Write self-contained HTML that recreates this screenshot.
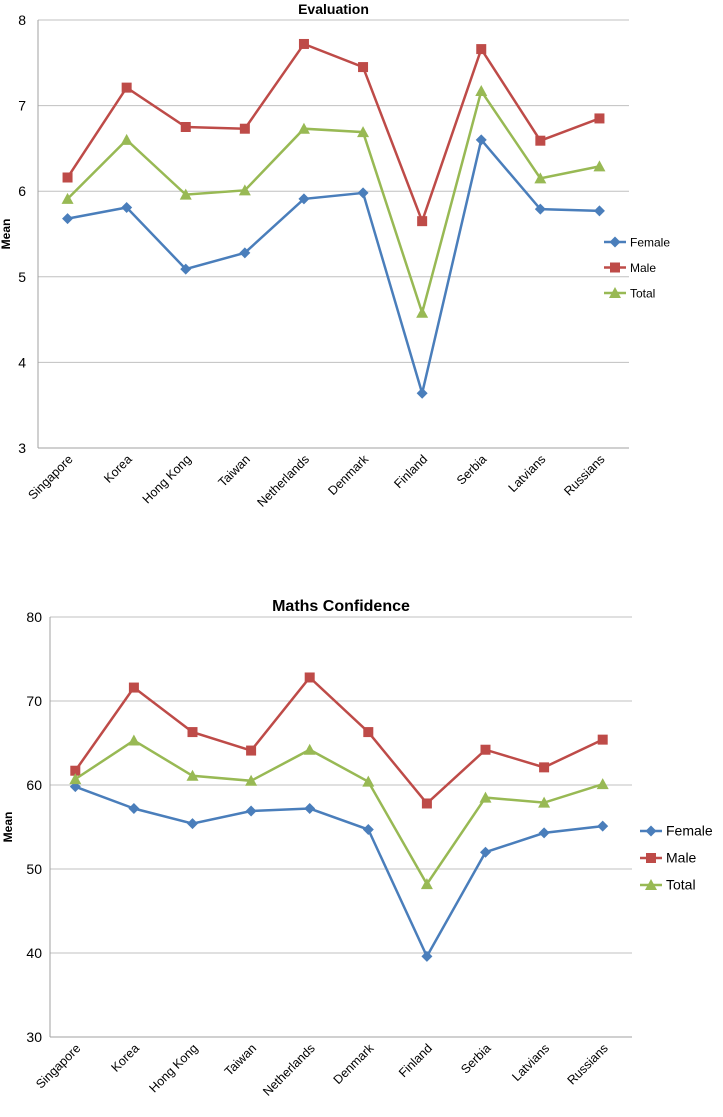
<!DOCTYPE html>
<html><head><meta charset="utf-8"><style>
body{margin:0;background:#fff;font-family:"Liberation Sans",sans-serif;}
svg text{font-family:"Liberation Sans",sans-serif;}
</style></head><body>
<svg id="s" width="723" height="1112"></svg>
<script>
const categories=["Singapore","Korea","Hong Kong","Taiwan","Netherlands","Denmark","Finland","Serbia","Latvians","Russians"];
const evalFemale=[5.68,5.81,5.09,5.28,5.91,5.98,3.64,6.6,5.79,5.77];
const evalMale=[6.16,7.21,6.75,6.73,7.72,7.45,5.65,7.66,6.59,6.85];
const evalTotal=[5.91,6.6,5.96,6.01,6.73,6.69,4.58,7.17,6.15,6.29];
const evalTicks=[3,4,5,6,7,8];
const confFemale=[59.8,57.2,55.4,56.9,57.2,54.7,39.6,52.0,54.3,55.1];
const confMale=[61.7,71.6,66.3,64.1,72.8,66.3,57.8,64.2,62.1,65.4];
const confTotal=[60.7,65.3,61.1,60.5,64.2,60.4,48.2,58.5,57.9,60.1];
const confTicks=[30,40,50,60,70,80];
const seriesNames=["Female","Male","Total"];
const colors=["#4a7ebb","#be4b48","#98b954"];
const NS="http://www.w3.org/2000/svg";
const svg=document.getElementById('s');
function mk(t,a,p){const e=document.createElementNS(NS,t);for(const k in a)e.setAttribute(k,a[k]);(p||svg).appendChild(e);return e;}
function marker(g,i,x,y){
  if(i===0)return mk('polygon',{points:`${x},${y-5.5} ${x+5.5},${y} ${x},${y+5.5} ${x-5.5},${y}`,fill:colors[0]},g);
  if(i===1)return mk('rect',{x:x-5,y:y-5,width:10,height:10,fill:colors[1]},g);
  return mk('polygon',{points:`${x},${y-6} ${x+6},${y+5} ${x-6},${y+5}`,fill:colors[2]},g);
}
function chart(o){
  const g=mk('g',{});
  
  
  const min=o.ticks[0],max=o.ticks[o.ticks.length-1];
  const yS=v=>o.bottom-(v-min)/(max-min)*(o.bottom-o.top);
  const step=(o.right-o.xl)/categories.length;
  const xS=i=>o.xl+step*(i+0.5);
  o.ticks.forEach(t=>{
    if(t!==min){const l=mk('line',{x1:o.left,x2:o.right,y1:yS(t),y2:yS(t),stroke:'#c0c0c0','stroke-width':1},g);
    }
    const tx=mk('text',{x:o.left-o.tOff,y:yS(t)+5,'text-anchor':'end','font-size':o.tfs},g);tx.textContent=t;
    
  });
  mk('line',{x1:o.left,x2:o.left,y1:o.top,y2:o.bottom,stroke:'#a0a0a0'},g);
  mk('line',{x1:o.left,x2:o.right,y1:o.bottom,y2:o.bottom,stroke:'#a0a0a0'},g);
  categories.forEach((c,i)=>{
    const x=xS(i),y=o.bottom+12;
    const t=mk('text',{x:x+6,y:y,'text-anchor':'end','font-size':12.5,transform:`rotate(-45 ${x+6} ${y})`},g);t.textContent=c;
    
  });
  const title=mk('text',{x:(o.left+o.right)/2,y:o.top-6,'text-anchor':'middle','font-size':o.titleSize,'font-weight':'bold'},g);title.textContent=o.title;
  
  const yt=mk('text',{x:0,y:0,'text-anchor':'middle','font-size':12,'font-weight':'bold',transform:`translate(${o.ytx},${(o.top+o.bottom)/2}) rotate(-90)`},g);yt.textContent='Mean';
  
  o.series.forEach((d,si)=>{
    const sg=mk('g',{},g);
    
    
    mk('polyline',{points:d.map((v,i)=>xS(i)+','+yS(v)).join(' '),fill:'none',stroke:colors[si],'stroke-width':2.5},sg);
    d.forEach((v,i)=>{const m=marker(sg,si,xS(i),yS(v));});
    const ly=o.legY+si*o.legGap;
    const lg=mk('g',{},g);
    
    
    mk('line',{x1:o.legX,x2:o.legX+22,y1:ly,y2:ly,stroke:colors[si],'stroke-width':2.5},lg);
    marker(lg,si,o.legX+11,ly);
    const lt=mk('text',{x:o.legX+26,y:ly+4.5,'font-size':o.lfs},lg);lt.textContent=seriesNames[si];
  });
}
chart({name:'evaluation-chart',title:'Evaluation',titleSize:14,left:38,xl:38,right:629,top:20,bottom:448,ticks:evalTicks,series:[evalFemale,evalMale,evalTotal],legX:604,legY:242,legGap:25.5,ytx:10,tfs:14,tOff:12,lfs:12});
chart({name:'maths-confidence-chart',title:'Maths Confidence',titleSize:16,left:50,xl:46,right:632,top:617,bottom:1037,ticks:confTicks,series:[confFemale,confMale,confTotal],legX:640,legY:831,legGap:27,ytx:12,tfs:14,tOff:8,lfs:14});
</script>
</body></html>
